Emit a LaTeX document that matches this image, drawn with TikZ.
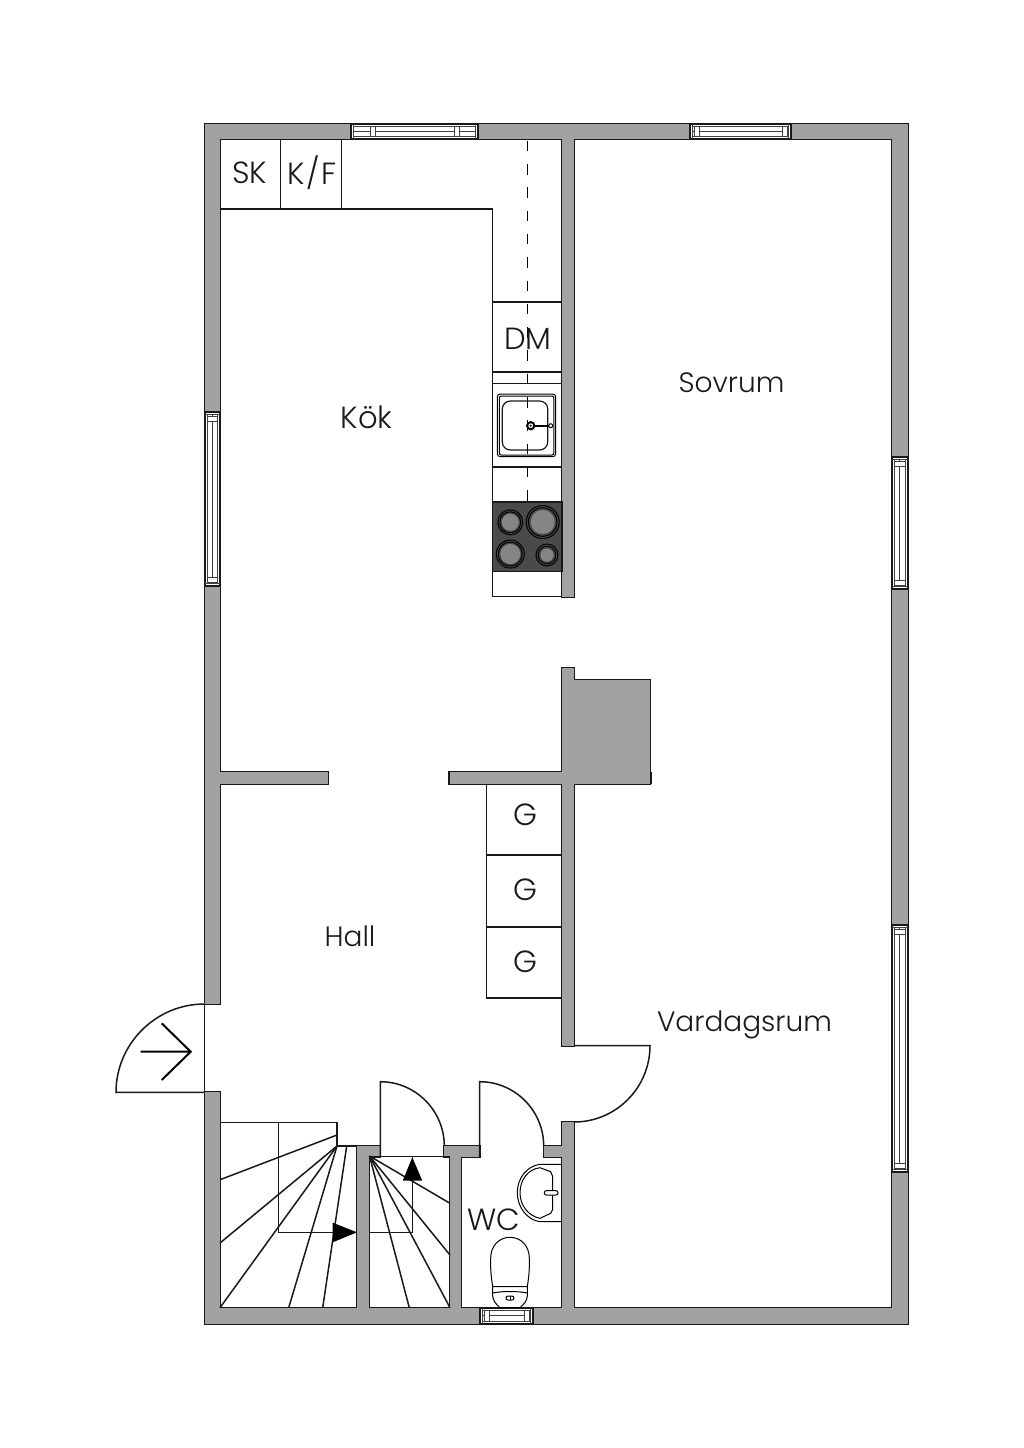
\documentclass[tikz,border=0pt]{standalone}
\usepackage{fontspec}
\setmainfont{Poppins}[UprightFont={* Light}]
\definecolor{wallc}{HTML}{A2A2A2}
\definecolor{hobc}{HTML}{4A4A4A}
\definecolor{discc}{HTML}{858585}
\tikzset{
  ln/.style={draw=black!90,line width=0.75pt},
  thin ln/.style={draw=black,line width=0.5pt},
  winframe/.style={draw=black!75,line width=0.45pt,fill=white},
  winouter/.style={draw=black!90,line width=0.6pt,fill=white},
  lbl/.style={font=\fontsize{14}{16}\selectfont,inner sep=0pt,text=black!90},
  lblb/.style={font=\fontsize{15.3}{16}\selectfont,inner sep=0pt,text=black!90},
  arrowfill/.style={fill=black,draw=none},
  wall edge/.style={fill=black!90,draw=black!90,line width=1.1pt},
  wall core/.style={fill=wallc,draw=none}
}
\newcommand\wallrects[1]{%
  \foreach \a/\b/\c/\d in {205/124/908/139,205/1308/908/1324,205/124/220/1004,205/1092/220/1324,
    892/124/908/1324,562/139/574/597,562/668/574/1046,574/680/650/784,449.5/772/562/784,220/772/328/784,
    562/1122/574/1308,357/1146/369/1308,357/1146/380.3/1157,444.3/1146/479.7/1157,
    543.7/1146/562/1157,449.7/1157/460.7/1308}
  {\path[#1] (\a,\b) rectangle (\c,\d);}}
\newcommand\hwin[5]{%
  \pgfmathsetmacro\xa{#1+2.6}\pgfmathsetmacro\xb{#3-2.6}
  \pgfmathsetmacro\ya{#2+2.6}\pgfmathsetmacro\yb{#4-3}\pgfmathsetmacro\ym{#2+7}
  \pgfmathsetmacro\ba{#1+#5}\pgfmathsetmacro\bb{#1+#5+5}
  \pgfmathsetmacro\bc{#3-#5-5}\pgfmathsetmacro\bd{#3-#5}
  \draw[winouter] (#1,#2) rectangle (#3,#4);
  \draw[winframe,fill=none] (\xa,#2) -- (\xa,#4) (\xb,#2) -- (\xb,#4);
  \draw[winframe] (\ba,\ya) -- (\ba,\yb) (\bb,\ya) -- (\bb,\yb) (\bc,\ya) -- (\bc,\yb) (\bd,\ya) -- (\bd,\yb);
  \draw[winframe] (\xa,\ya) -- (\xb,\ya) (\xa,\yb) -- (\xb,\yb);
  \draw[winframe] (\xa,\ym) -- (\ba,\ym) (\bb,\ym) -- (\bc,\ym) (\bd,\ym) -- (\xb,\ym);
}
\begin{document}
\begin{tikzpicture}[x=0.5pt,y=-0.5pt]
\useasboundingbox (0,0) rectangle (1024,1448);
\fill[white] (0,0) rectangle (1024,1448);
% walls: union outline
\wallrects{wall edge}
\wallrects{wall core}
% fireplace right edge
\draw[ln] (651,772) -- (651,784);
% windows
\hwin{351}{124}{478}{139}{19}
\hwin{690}{124}{791}{139}{4}
\hwin{480}{1308}{533}{1324}{4}
\begin{scope}[x={(0,-0.5pt)},y={(0.5pt,0)}]
  \hwin{412}{205}{586}{220}{4}
  \hwin{457}{892}{589}{908}{4}
  \hwin{925}{892}{1172}{908}{4}
\end{scope}
% kitchen units
\draw[ln] (220,209) -- (492.3,209) -- (492.3,596.7) -- (562,596.7);
\draw[ln] (280.7,139) -- (280.7,209) (341.7,139) -- (341.7,209);
\draw[ln] (492.3,302) -- (562,302) (492.3,372) -- (562,372) (492.3,383.3) -- (562,383.3) (492.3,467) -- (562,467);
\draw[thin ln,line width=0.7pt,dash pattern=on 5.25pt off 6.4pt] (527.3,140.7) -- (527.3,502);
% sink
\draw[thin ln,rounded corners=1.5pt] (497.3,394) rectangle (555.7,456.7);
\draw[thin ln,rounded corners=1pt] (499.3,396) rectangle (553.9,455);
\draw[ln,line width=0.6pt,rounded corners=4pt] (502.3,401) rectangle (547.7,450);
\draw[line width=1pt] (530.7,425.7) -- (550.7,425.7);
\draw[line width=1pt,fill=white] (530.7,425.7) circle[radius=3.6];
\fill (530.7,425.7) circle[radius=1.2];
\draw[thin ln,fill=white] (550.7,425.7) circle[radius=2];
% hob
\draw[ln,fill=hobc] (492.3,502) rectangle (562,571.7);
\foreach \cx/\cy/\ra/\rb/\rc in {510.3/522.3/12.5/10.5/8.5, 542.7/522/16.5/14.3/12, 510.3/554/14/12/10, 547/555/11/8.8/6.5}{
  \draw[thin ln] (\cx,\cy) circle[radius=\ra];
  \draw[thin ln] (\cx,\cy) circle[radius=\rb];
  \fill[discc] (\cx,\cy) circle[radius=\rc];
}
% wardrobes
\draw[ln] (486.7,784) -- (486.7,998) -- (562,998) (486.7,855) -- (562,855) (486.7,927) -- (562,927);
% entrance door
\draw[ln] (204.5,1004) -- (204.5,1092.3);
\draw[ln] (204.5,1004) .. controls (155.9,1004) and (116,1043.7) .. (116,1092.3) -- (204.5,1092.3);
\coordinate (arrowtail) at (140.7,1051.7);
\coordinate (arrowtip) at (190.7,1051.7);
\coordinate (arrowup) at (161.7,1023.3);
\coordinate (arrowdn) at (161.7,1080);
\draw[line width=1pt] (arrowtail) -- (arrowtip) (arrowup) -- (arrowtip) -- (arrowdn);
% other doors
\draw[ln] (380.3,1157) -- (380.3,1081.7) .. controls (415.6,1081.7) and (444.3,1110.7) .. (444.3,1146);
\draw[ln] (369,1156.7) -- (450,1156.7);
\draw[ln] (479.7,1157) -- (479.7,1081.7) .. controls (515,1081.7) and (543.7,1110.7) .. (543.7,1146);
\draw[ln] (574,1045.7) -- (650,1045.7) .. controls (650,1087.7) and (616,1122) .. (574,1122);
% left stairs
\draw[ln] (220,1122.7) -- (337,1122.7) -- (337,1146) -- (357,1146);
\draw[ln] (278.7,1122.7) -- (278.7,1232.3) -- (357,1232.3);
\coordinate (sl) at (337,1146);
\draw[ln] (337,1135) -- (220,1179.7);
\draw[ln] (sl) -- (220,1243);
\draw[ln] (sl) -- (220,1307.7);
\draw[ln] (sl) -- (288.7,1307.7);
\draw[ln] (346.7,1146) -- (322.7,1307.7);
\fill[arrowfill] (332.7,1222.7) -- (357,1232.3) -- (332.7,1242.3) -- cycle;
% right stairs
\draw[ln] (369,1232.3) -- (412.3,1232.3) -- (412.3,1157);
\coordinate (sr) at (369.5,1156);
\draw[ln] (sr) -- (450,1203.3);
\draw[ln] (sr) -- (450,1255);
\draw[ln] (sr) -- (450,1307.7);
\draw[ln] (sr) -- (409.3,1307.7);
\fill[arrowfill] (412.3,1157.3) -- (402.7,1180.7) -- (422.3,1180.7) -- cycle;
% WC basin
\draw[thin ln] (562,1164.3) -- (540,1164.3) .. controls (527,1166) and (517.3,1178) .. (517.3,1192.7) .. controls (517.3,1207) and (527,1220) .. (540,1221.7) -- (562,1221.7);
\draw[thin ln] (540,1167.7) -- (550.7,1171.7) -- (552.7,1176.7) -- (552.7,1209.3) -- (550.7,1213.3) -- (540,1218.3) .. controls (528,1216) and (520,1205) .. (520,1192.7) .. controls (520,1180) and (528,1169) .. (540,1167.7);
\draw[thin ln,rounded corners=1pt,fill=white] (544.3,1190.7) rectangle (558,1195);
% WC toilet
\draw[thin ln] (492.7,1286.7) .. controls (490,1270) and (490.7,1262) .. (490.7,1258) .. controls (490.7,1246) and (499,1237.3) .. (510,1237.3) .. controls (521,1237.3) and (529.3,1246) .. (529.3,1258) .. controls (529.3,1262) and (530,1270) .. (527.3,1286.7) -- cycle;
\draw[thin ln] (492.7,1286.7) -- (492.7,1296) .. controls (493,1301) and (496,1304) .. (500,1307.7) -- (520,1307.7) .. controls (524,1304) and (527,1301) .. (527.3,1296) -- (527.3,1286.7);
\draw[thin ln] (492.7,1293) .. controls (502,1291) and (518,1291) .. (527.3,1293);
\draw[thin ln,rounded corners=1pt] (506,1296) rectangle (514,1300);
\draw[thin ln] (510,1296) -- (510,1300);
% labels
\node[lblb] (sk) at (249.5,172.5) {SK};
\node[lblb] (kf) at (312,172.5) {K\kern0.5pt/\kern0.7ptF};
\node[lblb] (dm) at (528,338.5) {DM};
\node[lblb] (kok) at (366.5,417.5) {Kök};
\node[lbl] (sovrum) at (731.5,382.5) {Sovrum};
\node[lbl] (hall) at (350,936.5) {Hall};
\node[lbl] (vardagsrum) at (744.5,1025) {Vardagsrum};
\node[lblb] (wc) at (494,1219.5) {WC};
\node[lblb] (g1) at (525.5,815) {G};
\node[lblb] (g2) at (525,890) {G};
\node[lblb] (g3) at (525,962) {G};
\end{tikzpicture}
\end{document}
